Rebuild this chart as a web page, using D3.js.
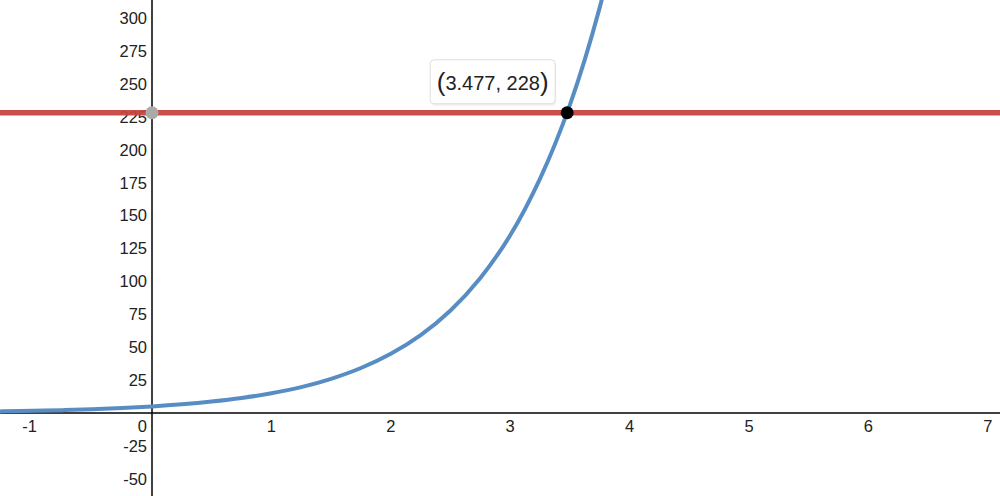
<!DOCTYPE html>
<html><head><meta charset="utf-8">
<script src="https://cdn.jsdelivr.net/npm/d3@7"></script>
<style>
html,body{margin:0;padding:0;background:#fff;}
svg{display:block;font-family:Arial,"Liberation Sans",sans-serif;}
</style></head>
<body><svg id="c" width="1000" height="496"></svg>
<script>
// Data
const curveX = [-1.5, -1.25, -1, -0.75, -0.5, -0.25, 0, 0.25, 0.5, 0.75, 1, 1.25, 1.5, 1.75, 2, 2.25, 2.5, 2.75, 3, 3.25, 3.5, 3.75, 4];
const curveY = [0.96, 1.26, 1.67, 2.19, 2.89, 3.8, 5, 6.6, 8.7, 11.4, 15, 19.7, 26, 34.2, 45, 59.2, 77.9, 102.6, 135, 178, 234, 308, 405];
const hLineY = 228;
const intersection = {x: 3.477, y: 228};
const yInterceptPoint = {x: 0, y: 228};
const xTicks = [-1, 1, 2, 3, 4, 5, 6, 7];
const yTicks = [-50, -25, 25, 50, 75, 100, 125, 150, 175, 200, 225, 250, 275, 300];
const labelText = "3.477, 228";

const W = 1000, H = 496;
const svg = d3.select("#c");
const x = d3.scaleLinear().domain([-1.273, 7.102]).range([0, W]);
const y = d3.scaleLinear().domain([-63.0, 313.6]).range([H, 0]);

// axes
svg.append("line").attr("x1", 0).attr("x2", W).attr("y1", y(0)).attr("y2", y(0))
  .attr("stroke", "#000").attr("stroke-width", 1.5);
svg.append("line").attr("x1", x(0)).attr("x2", x(0)).attr("y1", 0).attr("y2", H)
  .attr("stroke", "#000").attr("stroke-width", 1.5);

// tick labels
const fs = 16.5;
svg.selectAll("text.xt").data(xTicks).join("text").attr("class", "xt")
  .attr("x", d => x(d) + (d < 0 ? -3 : 0)).attr("y", y(0) + 19)
  .attr("text-anchor", "middle").attr("font-size", fs).attr("fill", "#222")
  .text(d => d < 0 ? "-" + Math.abs(d) : d);
svg.append("text").attr("x", x(0) - 5).attr("y", y(0) + 19)
  .attr("text-anchor", "end").attr("font-size", fs).attr("fill", "#222").text("0");
svg.selectAll("text.yt").data(yTicks).join("text").attr("class", "yt")
  .attr("x", x(0) - 5).attr("y", d => y(d) + 6)
  .attr("text-anchor", "end").attr("font-size", fs).attr("fill", "#222")
  .text(d => d < 0 ? "-" + Math.abs(d) : d);

// horizontal line
svg.append("line").attr("x1", 0).attr("x2", W).attr("y1", y(hLineY)).attr("y2", y(hLineY))
  .attr("stroke", "#c74440").attr("stroke-width", 5.5).attr("stroke-opacity", 0.95);

// curve
const pts = curveX.map((d, i) => [d, curveY[i]]);
const line = d3.line().x(d => x(d[0])).y(d => y(d[1])).curve(d3.curveCatmullRom.alpha(0.5));
svg.append("path").attr("d", line(pts)).attr("fill", "none")
  .attr("stroke", "#588dc4").attr("stroke-width", 4);

// points
svg.append("circle").attr("cx", x(yInterceptPoint.x)).attr("cy", y(yInterceptPoint.y)).attr("r", 6.5)
  .attr("fill", "#aaaaaa");
svg.append("circle").attr("cx", x(intersection.x)).attr("cy", y(intersection.y)).attr("r", 6.5)
  .attr("fill", "#000");

// label box
const bx = x(intersection.x) - 137, by = y(intersection.y) - 53;
svg.append("rect").attr("x", bx + 1).attr("y", by + 2).attr("width", 125).attr("height", 44)
  .attr("rx", 4).attr("fill", "rgba(0,0,0,0.06)");
svg.append("rect").attr("x", bx).attr("y", by).attr("width", 125).attr("height", 44)
  .attr("rx", 4).attr("fill", "#fff").attr("stroke", "#dddddd").attr("stroke-width", 1);
const t = svg.append("text").attr("x", bx + 62.5).attr("y", by + 30)
  .attr("text-anchor", "middle").attr("fill", "#222").attr("font-size", 20);
t.append("tspan").attr("font-size", 26).attr("dy", 1).text("(");
t.append("tspan").attr("dy", -1).text(labelText);
t.append("tspan").attr("font-size", 26).attr("dy", 1).text(")");
</script></body></html>
